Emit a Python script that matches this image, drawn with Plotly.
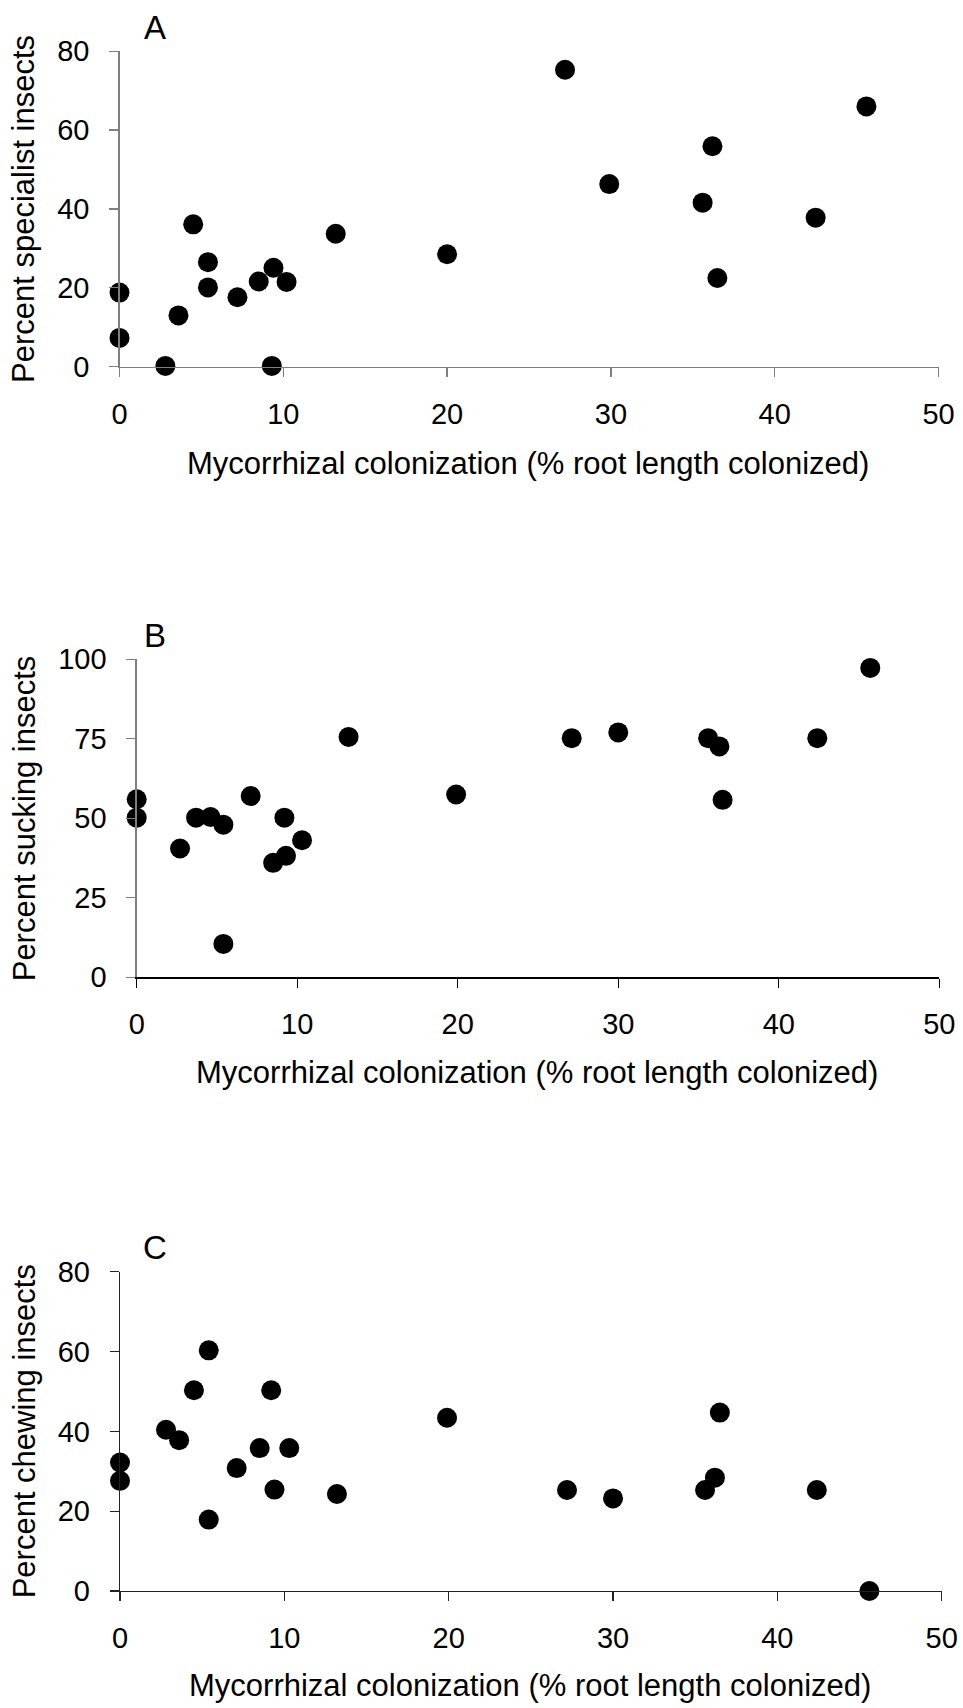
import plotly.graph_objects as go

# ---- data ----
x_a = [0, 0, 2.8, 3.6, 4.5, 5.4, 5.4, 7.2, 8.5, 9.4, 9.3, 10.2, 13.2, 20.0, 27.2, 29.9, 35.6, 36.2, 36.5, 42.5, 45.6]
spec = [18.8, 7.3, 0.2, 13.0, 36.1, 26.5, 20.1, 17.6, 21.6, 25.1, 0.2, 21.5, 33.7, 28.5, 75.3, 46.3, 41.6, 55.9, 22.5, 37.8, 66.0]

x_b = [0, 0, 2.7, 3.7, 4.6, 5.4, 5.4, 7.1, 8.5, 9.2, 9.3, 10.3, 13.2, 19.9, 27.1, 30.0, 35.6, 36.3, 36.5, 42.4, 45.7]
suck = [56.0, 50.2, 40.5, 50.2, 50.4, 48.0, 10.5, 57.0, 36.0, 50.2, 38.2, 43.1, 75.6, 57.5, 75.2, 77.0, 75.2, 72.6, 55.8, 75.2, 97.3]

x_c = [0, 0, 2.8, 3.6, 4.5, 5.4, 5.4, 7.1, 8.5, 9.2, 9.4, 10.3, 13.2, 19.9, 27.2, 30.0, 35.6, 36.2, 36.5, 42.4, 45.6]
chew = [32.2, 27.6, 40.4, 37.8, 50.3, 60.3, 17.9, 30.8, 35.8, 50.3, 25.4, 35.8, 24.3, 43.4, 25.3, 23.2, 25.3, 28.4, 44.7, 25.3, 0.0]

y_titles = ["Percent specialist insects", "Percent sucking insects", "Percent chewing insects"]
x_title = "Mycorrhizal colonization (% root length colonized)"
letters = ["A", "B", "C"]
y_ranges = [[0, 80], [0, 100], [0, 80]]
y_dticks = [20, 25, 20]

W, H = 963, 1708
FONT = "Liberation Sans, Arial, sans-serif"

# plot-area pixel boxes: (left, right, top, bottom)
boxes = [(119.5, 938.5, 51.2, 366.7), (136.7, 939.3, 659.3, 977.3), (120.0, 941.7, 1271.7, 1591.0)]
title_gap = [97, 95, 94]
xcolors = ["#7f7f7f", "#000000", "#222222"]
ycolors = ["#7f7f7f", "#7f7f7f", "#222222"]

fig = go.Figure()
series = [(x_a, spec), (x_b, suck), (x_c, chew)]
for i, (xs, ys) in enumerate(series):
    sfx = "" if i == 0 else str(i + 1)
    fig.add_trace(go.Scatter(
        x=xs, y=ys, mode="markers", xaxis="x" + sfx, yaxis="y" + sfx,
        marker=dict(color="black", size=20, line=dict(width=0)),
        cliponaxis=False, showlegend=False, hoverinfo="skip"))

layout = dict(
    width=W, height=H, margin=dict(l=0, r=0, t=0, b=0, pad=0, autoexpand=False),
    paper_bgcolor="white", plot_bgcolor="white",
    font=dict(family=FONT, size=29, color="black"),
    showlegend=False,
)
annotations = []
for i, (l, r, t, b) in enumerate(boxes):
    sfx = "" if i == 0 else str(i + 1)
    xd = [l / W, r / W]
    yd = [1 - b / H, 1 - t / H]
    layout["xaxis" + sfx] = dict(
        domain=xd, range=[0, 50], dtick=10, tick0=0, anchor="y" + sfx, automargin=False,
        showgrid=False, zeroline=False, showline=True, linecolor=xcolors[i], linewidth=1.3,
        ticks="outside", ticklen=9, tickwidth=1.3, tickcolor=xcolors[i],
        ticklabelstandoff=12, tickfont=dict(family=FONT, size=29, color="black"),
        fixedrange=True)
    layout["yaxis" + sfx] = dict(
        domain=yd, range=y_ranges[i], dtick=y_dticks[i], tick0=0, anchor="x" + sfx, automargin=False,
        showgrid=False, zeroline=False, showline=True, linecolor=ycolors[i], linewidth=1.3,
        ticks="outside", ticklen=9, tickwidth=1.3, tickcolor=ycolors[i],
        ticklabelstandoff=14, tickfont=dict(family=FONT, size=29, color="black"),
        fixedrange=True)
    cy = (t + b) / 2
    annotations.append(dict(
        text=y_titles[i], xref="paper", yref="paper", x=24 / W, y=1 - cy / H,
        textangle=-90, showarrow=False, xanchor="center", yanchor="middle",
        font=dict(family=FONT, size=31, color="black")))
    annotations.append(dict(
        text=x_title, xref="paper", yref="paper", x=((l + r) / 2 - 1) / W, y=1 - (b + title_gap[i]) / H,
        showarrow=False, xanchor="center", yanchor="middle",
        font=dict(family=FONT, size=31, color="black")))
    annotations.append(dict(
        text=letters[i], xref="paper", yref="paper", x=155 / W, y=1 - (t - 24) / H,
        showarrow=False, xanchor="center", yanchor="middle",
        font=dict(family=FONT, size=33, color="black")))
layout["annotations"] = annotations
fig.update_layout(**layout)
fig.write_html("out.html", config={"displayModeBar": False, "staticPlot": True},
               post_script="document.body.style.margin='0';document.body.style.padding='0';"
                           "document.body.style.overflow='hidden';"
                           "document.documentElement.style.overflow='hidden';")
